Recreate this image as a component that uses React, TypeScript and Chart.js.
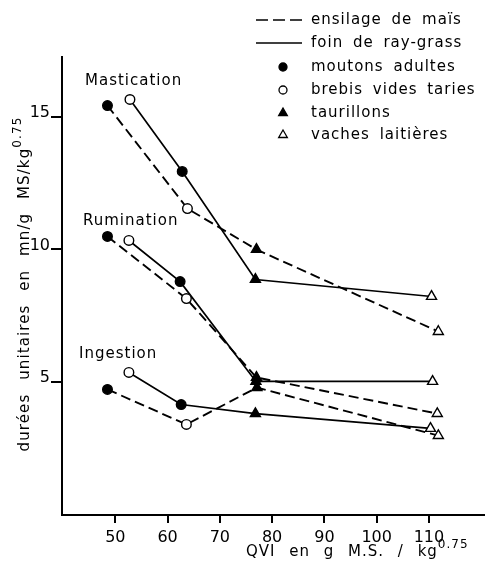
import React, { useEffect, useRef } from 'react';
import { Chart, registerables } from 'chart.js';

Chart.register(...registerables);

// ---- data ----
const xTicks = [50, 60, 70, 80, 90, 100, 110];
const yTicks = [5, 10, 15];

const feedLabels = ['ensilage de maïs', 'foin de ray-grass'];
const animalLabels = ['moutons adultes', 'brebis vides taries', 'taurillons', 'vaches laitières'];
const activityLabels = ['Mastication', 'Rumination', 'Ingestion'];

// order of animals along each line (index into animalLabels)
const foinAnimals = [1, 0, 2, 3];
const ensilageAnimals = [0, 1, 2, 3];

const masticationFoinX = [52.8, 62.8, 76.8, 110.5];
const masticationFoinY = [15.65, 12.94, 8.87, 8.23];
const masticationEnsilageX = [48.5, 63.8, 77.0, 111.8];
const masticationEnsilageY = [15.42, 11.54, 10.0, 6.91];

const ruminationFoinX = [52.6, 62.4, 76.9, 110.7];
const ruminationFoinY = [10.34, 8.79, 5.03, 5.03];
const ruminationEnsilageX = [48.5, 63.6, 77.0, 111.6];
const ruminationEnsilageY = [10.49, 8.15, 5.18, 3.82];

const ingestionFoinX = [52.6, 62.6, 76.8, 110.3];
const ingestionFoinY = [5.37, 4.16, 3.82, 3.26];
const ingestionEnsilageX = [48.5, 63.6, 77.1, 111.8];
const ingestionEnsilageY = [4.73, 3.41, 4.8, 2.99];

// ---- styles ----
const FONT = "'DejaVu Sans', sans-serif";
const DASH = [10, 5];
const animalStyle = [
  { shape: 'circle', fill: '#000', r: 4.8 },
  { shape: 'circle', fill: '#fff', r: 4.8 },
  { shape: 'triangle', fill: '#000', r: 5.8 },
  { shape: 'triangle', fill: '#fff', r: 5.8 },
];

function makeDataset(xs: number[], ys: number[], animals: number[], dashed: boolean) {
  return {
    data: xs.map((x, i) => ({ x, y: ys[i] })),
    borderColor: '#000',
    borderWidth: dashed ? 1.9 : 1.7,
    borderDash: dashed ? DASH : [],
    pointStyle: animals.map((a) => animalStyle[a].shape),
    pointRadius: animals.map((a) => animalStyle[a].r),
    pointBackgroundColor: animals.map((a) => animalStyle[a].fill),
    pointBorderColor: '#000',
    pointBorderWidth: 1.4,
    tension: 0,
    fill: false,
  };
}

type Part = { t: string; sup?: boolean };

function partFont(p: Part, size: number) {
  return `${p.sup ? 12 : size}px ${FONT}`;
}

function measureParts(ctx: CanvasRenderingContext2D, parts: Part[], size: number) {
  let w = 0;
  for (const p of parts) {
    ctx.font = partFont(p, size);
    w += ctx.measureText(p.t).width;
  }
  return w;
}

function drawParts(
  ctx: CanvasRenderingContext2D,
  parts: Part[],
  x: number,
  y: number,
  size: number,
  align: 'left' | 'center'
) {
  const w = measureParts(ctx, parts, size);
  let cx = align === 'center' ? x - w / 2 : x;
  ctx.textAlign = 'left';
  ctx.textBaseline = 'middle';
  for (const p of parts) {
    ctx.font = partFont(p, size);
    ctx.fillText(p.t, cx, p.sup ? y - 7 : y);
    cx += ctx.measureText(p.t).width;
  }
}

function drawMarker(ctx: CanvasRenderingContext2D, a: number, x: number, y: number) {
  const s = animalStyle[a];
  ctx.save();
  ctx.fillStyle = s.fill;
  ctx.strokeStyle = '#000';
  ctx.lineWidth = 1.3;
  ctx.setLineDash([]);
  ctx.beginPath();
  if (s.shape === 'circle') {
    ctx.arc(x, y, s.r - 0.8, 0, Math.PI * 2);
  } else {
    const r = s.r - 0.8;
    for (let k = 0; k < 3; k++) {
      const ang = (k * 2 * Math.PI) / 3;
      const px = x + Math.sin(ang) * r;
      const py = y - Math.cos(ang) * r;
      if (k === 0) ctx.moveTo(px, py);
      else ctx.lineTo(px, py);
    }
    ctx.closePath();
  }
  ctx.fill();
  ctx.stroke();
  ctx.restore();
}

const annotationPlugin = {
  id: 'annotations',
  afterDraw(chart: any) {
    const ctx: CanvasRenderingContext2D = chart.ctx;
    ctx.save();
    ctx.fillStyle = '#000';
    (ctx as any).letterSpacing = '1px';
    (ctx as any).wordSpacing = '4px';

    // activity labels
    const actPos = [
      [85, 81],
      [83, 221],
      [79, 354],
    ];
    activityLabels.forEach((t, i) => {
      drawParts(ctx, [{ t }], actPos[i][0], actPos[i][1], 15, 'left');
    });

    // legend
    const rows = [20, 43, 67, 90, 113, 135];
    ctx.strokeStyle = '#000';
    ctx.lineWidth = 1.7;
    ctx.beginPath();
    ctx.setLineDash([12, 5]);
    ctx.moveTo(256, rows[0]);
    ctx.lineTo(302, rows[0]);
    ctx.stroke();
    ctx.beginPath();
    ctx.setLineDash([]);
    ctx.moveTo(256, rows[1]);
    ctx.lineTo(302, rows[1]);
    ctx.stroke();
    feedLabels.forEach((t, i) => drawParts(ctx, [{ t }], 311, rows[i], 15, 'left'));
    animalLabels.forEach((t, i) => {
      drawMarker(ctx, i, 283, rows[i + 2]);
      ctx.fillStyle = '#000';
      drawParts(ctx, [{ t }], 311, rows[i + 2], 15, 'left');
    });

    // x title
    (ctx as any).wordSpacing = '8px';
    drawParts(ctx, [{ t: 'QVI en g M.S. / kg' }, { t: '0.75', sup: true }], 246, 552, 15, 'left');

    // y title
    (ctx as any).wordSpacing = '8px';
    (ctx as any).letterSpacing = '1.1px';
    ctx.translate(25, 284);
    ctx.rotate(-Math.PI / 2);
    drawParts(ctx, [{ t: 'durées unitaires en mn/g MS/kg' }, { t: '0.75', sup: true }], 0, 0, 15, 'center');
    ctx.restore();
  },
};

export default function App() {
  const ref = useRef<HTMLCanvasElement | null>(null);

  useEffect(() => {
    if (!ref.current) return;
    const chart = new Chart(ref.current, {
      type: 'line',
      data: {
        datasets: [
          makeDataset(masticationEnsilageX, masticationEnsilageY, ensilageAnimals, true),
          makeDataset(masticationFoinX, masticationFoinY, foinAnimals, false),
          makeDataset(ruminationEnsilageX, ruminationEnsilageY, ensilageAnimals, true),
          makeDataset(ruminationFoinX, ruminationFoinY, foinAnimals, false),
          makeDataset(ingestionEnsilageX, ingestionEnsilageY, ensilageAnimals, true),
          makeDataset(ingestionFoinX, ingestionFoinY, foinAnimals, false),
        ] as any,
      },
      options: {
        animation: false,
        responsive: false,
        maintainAspectRatio: false,
        layout: { padding: { top: 57, right: 1, left: 0, bottom: 0 } },
        plugins: { legend: { display: false }, tooltip: { enabled: false } },
        scales: {
          x: {
            type: 'linear',
            min: 39.8,
            max: 120.5,
            afterBuildTicks: (s: any) => {
              s.ticks = xTicks.map((v) => ({ value: v }));
            },
            afterFit: (s: any) => {
              s.height = 49;
            },
            grid: { drawOnChartArea: false, drawTicks: true, tickLength: 8, color: '#000', lineWidth: 2 },
            border: { display: true, color: '#000', width: 2 },
            ticks: {
              color: '#000',
              font: { family: FONT, size: 16 },
              padding: 5,
              maxRotation: 0,
              autoSkip: false,
              callback: (v: any) => String(v),
            },
          },
          y: {
            type: 'linear',
            min: 0,
            max: 17.25,
            afterBuildTicks: (s: any) => {
              s.ticks = yTicks.map((v) => ({ value: v }));
            },
            afterFit: (s: any) => {
              s.width = 62;
            },
            grid: { drawOnChartArea: false, drawTicks: true, tickLength: 11, color: '#000', lineWidth: 2 },
            border: { display: true, color: '#000', width: 2 },
            ticks: {
              color: '#000',
              font: { family: FONT, size: 16 },
              padding: 1,
              labelOffset: -4,
              autoSkip: false,
              callback: (v: any) => String(v),
            },
          },
        },
      },
      plugins: [annotationPlugin],
    });
    return () => chart.destroy();
  }, []);

  return (
    <div style={{ position: 'absolute', left: 0, top: 0, width: 491, height: 564, background: '#fff' }}>
      <canvas ref={ref} width={491} height={564} style={{ display: 'block' }} />
    </div>
  );
}
